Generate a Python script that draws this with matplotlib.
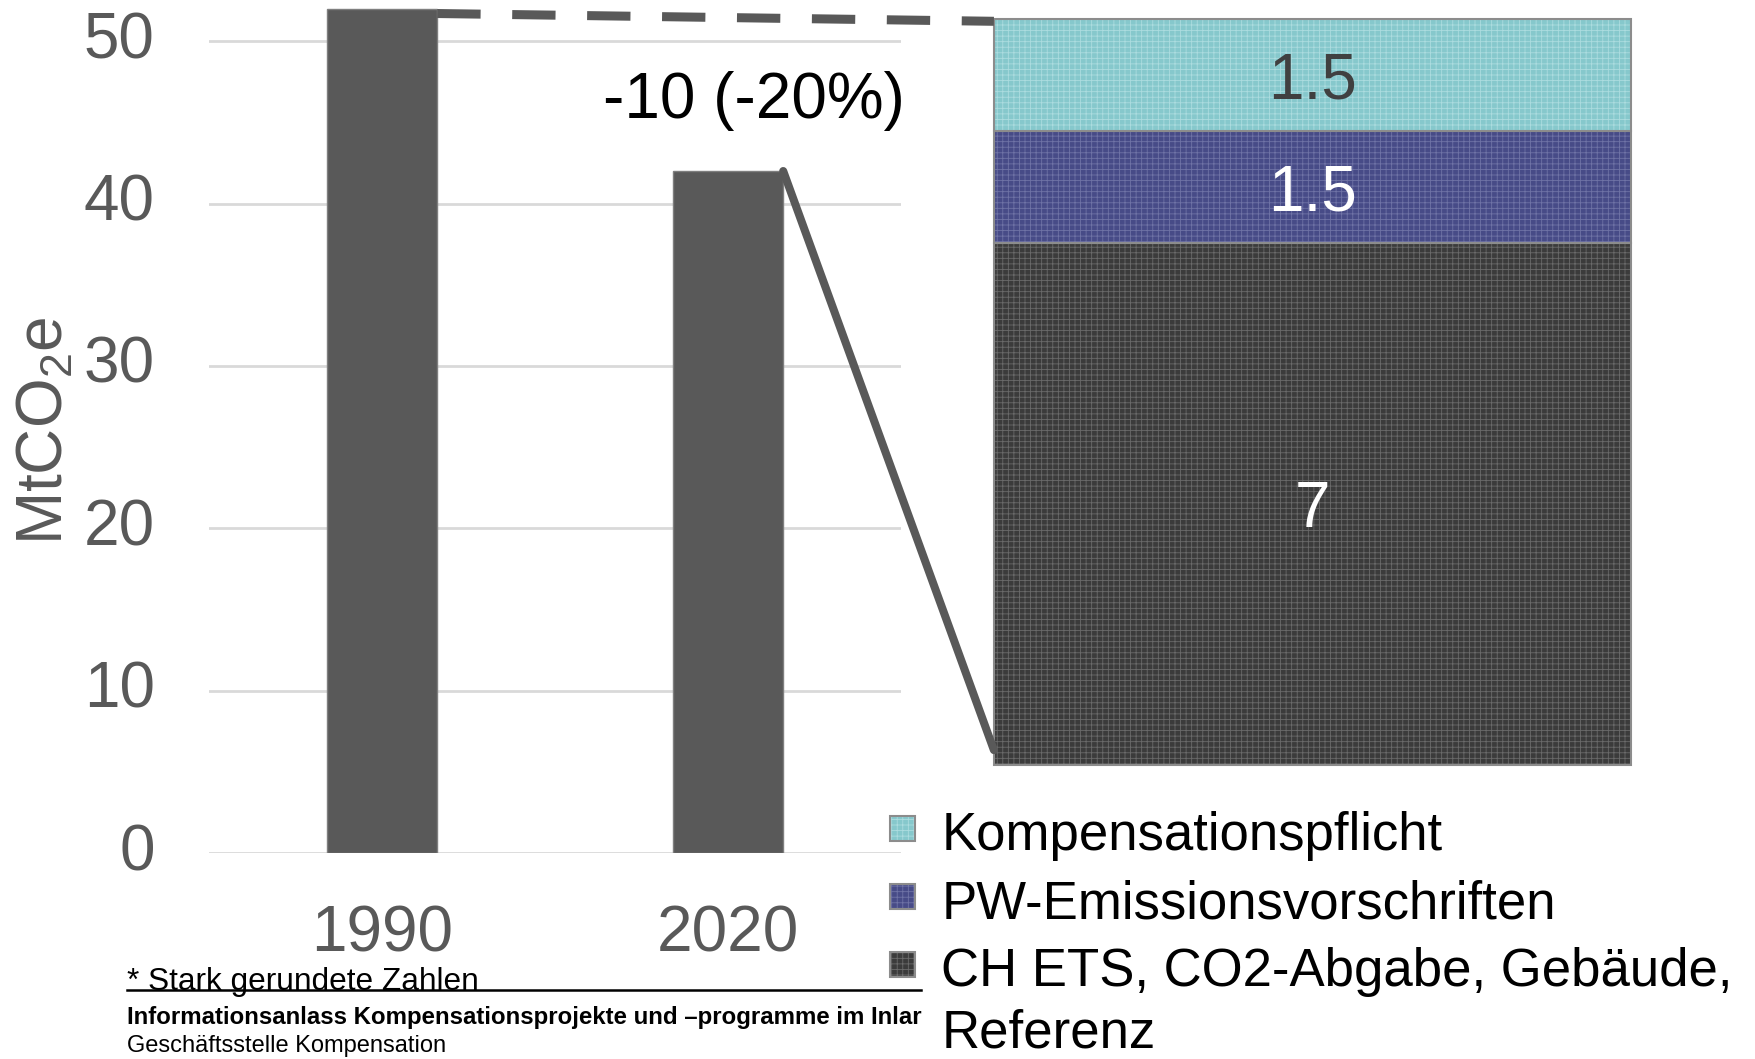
import matplotlib.pyplot as plt
from matplotlib.patches import ConnectionPatch, Rectangle

plt.rcParams['font.family'] = ['Liberation Sans', 'DejaVu Sans']
plt.rcParams['hatch.linewidth'] = 0.6

# data
years = ['1990', '2020']
emissions = [52, 42]
yticks = [0, 10, 20, 30, 40, 50]
reduction_label = '-10 (-20%)'

# breakdown of the 10 Mt reduction, bottom to top
parts = ['CH ETS, CO2-Abgabe, Gebäude,\nReferenz', 'PW-Emissionsvorschriften', 'Kompensationspflicht']
part_values = [7, 1.5, 1.5]
part_labels = ['7', '1.5', '1.5']
part_colors = ['#3b3b3b', '#474b87', '#86c8cc']
hatch_colors = ['#6a6a6a', '#6f73a6', '#acdcdf']
label_colors = ['white', 'white', '#404040']

footnote = '* Stark gerundete Zahlen'
footer_title = 'Informationsanlass Kompensationsprojekte und \u2013programme im Inlar'
footer_sub = 'Geschäftsstelle Kompensation'

fig = plt.figure(figsize=(17.56, 10.59), dpi=100)

# main bars
ax = fig.add_axes([0.119, 0.1945, 0.394, 0.805])
x = list(range(len(years)))
ax.bar(x, emissions, width=0.32, color='#595959', edgecolor='#7f7f7f', linewidth=1, zorder=3)
ax.set_xlim(-0.5, 1.5)
ax.set_ylim(0, 52.5)
ax.set_yticks(yticks)
ax.set_xticks(x)
ax.set_xticklabels(years)
ax.tick_params(length=0, labelsize=46, labelcolor='#595959')
ax.tick_params(axis='x', pad=37)
ax.tick_params(axis='y', pad=39)
for t in ax.get_yticklabels():
    t.set_va('center')
ax.grid(axis='y', color='#d9d9d9', linewidth=2, zorder=0)
for s in ax.spines.values():
    s.set_visible(False)
ax.set_ylabel('MtCO$_\\mathregular{2}$e', fontsize=46, color='#595959')
ax.yaxis.set_label_coords(-0.193, 0.495)
ax.text(1.075, 46.7, reduction_label, fontsize=46, ha='center', va='center_baseline', color='black')

# stacked breakdown
ax2 = fig.add_axes([0.566, 0.2776, 0.3627, 0.7044])
bottom = 0
for v, lab, fc, hc, tc in zip(part_values, part_labels, part_colors, hatch_colors, label_colors):
    ax2.bar(0, v, bottom=bottom, width=1, color=fc, edgecolor=hc, hatch='+++', linewidth=0)
    ax2.bar(0, v, bottom=bottom, width=1, fill=False, edgecolor='#8c8c8c', linewidth=1.5, clip_on=False)
    ax2.text(0, bottom + v / 2, lab, fontsize=46, ha='center', va='center_baseline', color=tc)
    bottom += v
ax2.set_xlim(-0.5, 0.5)
ax2.set_ylim(0, sum(part_values))
ax2.axis('off')

# connector lines
dash = ConnectionPatch(xyA=(0.16, emissions[0] - 0.3), coordsA=ax.transData,
                       xyB=(-0.5, sum(part_values) - 0.03), coordsB=ax2.transData,
                       color='#595959', lw=6.5, linestyle=(0, (4.8, 3.5)), capstyle='butt')
fig.add_artist(dash)
solid = ConnectionPatch(xyA=(1.16, emissions[1]), coordsA=ax.transData,
                        xyB=(-0.5, 0.2), coordsB=ax2.transData,
                        color='#595959', lw=5.8)
fig.add_artist(solid)

# legend
mk_y = [0.0888, 0.153, 0.2172]
txt_y = [0.011, 0.1331, 0.1974]
for name, fc, hc, my, ty in zip(parts, part_colors, hatch_colors, mk_y, txt_y):
    fig.patches.append(Rectangle((0.5142 - 0.0071, my - 0.0118), 0.0142, 0.0236, transform=fig.transFigure,
                                 facecolor=fc, edgecolor=hc, hatch='+++', linewidth=0))
    fig.patches.append(Rectangle((0.5142 - 0.0071, my - 0.0118), 0.0142, 0.0236, transform=fig.transFigure,
                                 fill=False, edgecolor='#8c8c8c', linewidth=1.5))
    fig.text(0.536, ty, name, fontsize=38, va='baseline', ha='left', color='black', linespacing=1.3)

# footer
fig.text(0.0723, 0.065, footnote, fontsize=22.8, va='baseline', color='black')
fig.add_artist(plt.Line2D([0.0723, 0.5243], [0.0652, 0.0652], color='black', lw=1.8))
fig.text(0.0723, 0.033, footer_title, fontsize=17.3, fontweight='bold', va='baseline', color='black')
fig.text(0.0723, 0.0066, footer_sub, fontsize=17, va='baseline', color='black')

fig.savefig('out.png', dpi=100)
